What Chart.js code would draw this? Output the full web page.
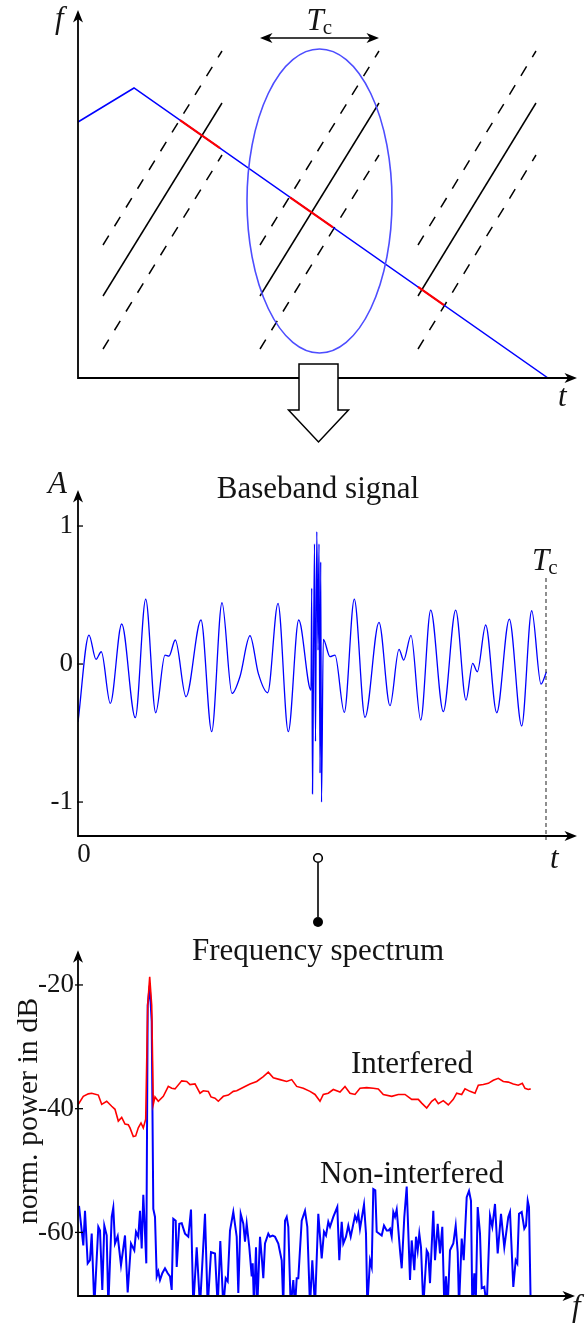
<!DOCTYPE html>
<html>
<head>
<meta charset="utf-8">
<script src="https://cdn.jsdelivr.net/npm/chart.js@4.4.1/dist/chart.umd.min.js"></script>
<style>
  body { margin: 0; background: #fff; }
  #wrap { position: relative; width: 585px; height: 1324px; }
  .box { position: absolute; left: 0; width: 585px; }
</style>
</head>
<body>
<div id="wrap">
  <div class="box" style="top:0;height:450px"><canvas id="sweep"></canvas></div>
  <div class="box" style="top:450px;height:480px"><canvas id="baseband"></canvas></div>
  <div class="box" style="top:930px;height:394px"><canvas id="spectrum"></canvas></div>
</div>
<script>
// ---- time/frequency sketch (arbitrary units) ----
const chirpT = [0, 56, 470];
const chirpF = [256, 290, 0];
const jamT0 = [25, 182, 340];
const jamT1 = [144, 301, 458];
const jamMidF = [82, 275];
const jamHighF = [133, 327];
const jamLowF = [29, 223];
const hitT0 = [102, 212, 340];
const hitF0 = [257.8, 180.7, 91.1];
const hitT1 = [142, 255, 366];
const hitF1 = [229.8, 150.6, 72.8];
const windowT = 241.5, windowF = 177, windowHalfT = 72.5, windowHalfF = 152;
const tcArrowF = 340;

// ---- baseband signal ----
const signalT = [0, 11, 18, 23.3, 32.3, 43.7, 57.3, 67.7, 77.7, 87, 91, 97.3, 108, 123, 133.7, 144, 154, 162, 172,
  180.3, 189.7, 200, 210.3, 220.7, 233, 233.7, 234.5, 235.3, 236.5, 237.5, 238.8, 240, 241, 242, 242.7, 243.5,
  245.3, 252, 257, 266.3, 276.3, 287, 301, 312, 321, 325.7, 333, 342.7, 352.7, 365.3, 377.7, 388, 394.7, 399.3,
  407.7, 418.7, 431.3, 443.7, 453.7, 463, 468.5];
const signalA = [-0.42, 0.21, 0.034, 0.089, -0.285, 0.29, -0.389, 0.471, -0.353, 0.065, 0.058, 0.174, -0.237, 0.319,
  -0.49, 0.444, -0.213, -0.09, 0.205, -0.068, -0.208, 0.44, -0.49, 0.319, -0.19, 0.55, -0.94, -0.24, 0.87, -0.56,
  0.96, 0.10, 0.87, -0.79, 0.74, -1.0, 0.179, 0.053, 0.065, -0.35, 0.471, -0.386, 0.302, -0.302, 0.106, 0.029,
  0.208, -0.406, 0.391, -0.345, 0.391, -0.261, 0.005, -0.056, 0.283, -0.353, 0.326, -0.449, 0.386, -0.145, -0.056];
const ampTicks = [-1, 0, 1];
const chirpEndT = 468;
const burstT = 240;

// ---- spectrum ----
const interfBin = [0.3, 5.3, 10.3, 13.7, 20.3, 23.7, 28.7, 33.7, 37, 40.3, 43.7, 47, 50.3, 52, 55.3, 57.7, 60.3, 63,
  65.3, 67.7, 69.7, 71.7, 73.7, 75.3, 77, 80.3, 85.3, 90.3, 93.7, 97, 103.7, 108.7, 112, 117, 122, 125.3, 130.3, 133,
  137, 140.3, 145.3, 150.3, 155.3, 158.7, 167, 172, 178.7, 185.3, 190.3, 195.3, 202, 208.7, 213.7, 218.7, 225.3, 232,
  237, 242, 245.3, 250.3, 255.3, 262, 267, 272, 277, 282, 288.7, 295.3, 300.3, 305.3, 313.7, 320.3, 327, 333.7,
  340.3, 343.7, 348.7, 353.7, 357, 360.3, 365.3, 370.3, 375.3, 378.7, 383.7, 387, 392, 397, 400.3, 405.3, 410.3,
  415.3, 420.3, 425.3, 430.3, 435.3, 440.3, 444.3, 447, 450.3, 452.7];
const interfDb = [-39.3, -38.0, -37.6, -37.5, -37.8, -39.3, -38.8, -39.6, -40.1, -42.0, -41.4, -42.5, -42.6, -43.1,
  -44.5, -44.4, -43.1, -42.3, -43.1, -41.7, -23.3, -18.7, -23.3, -39.3, -38.1, -38.8, -38.0, -36.4, -36.7, -36.8,
  -35.5, -35.6, -36.1, -36.0, -37.5, -37.1, -37.2, -38.1, -38.3, -38.8, -38.0, -37.8, -37.2, -37.1, -36.4, -36.0,
  -35.6, -34.8, -34.1, -35.0, -35.3, -35.6, -35.3, -36.4, -36.7, -37.2, -37.7, -38.8, -37.7, -37.5, -36.9, -37.3,
  -36.4, -37.5, -37.7, -36.7, -36.6, -36.7, -36.8, -37.7, -38.0, -37.7, -37.7, -38.5, -38.5, -39.1, -39.9, -38.8,
  -38.4, -39.2, -38.7, -39.4, -38.5, -37.5, -37.7, -36.8, -37.2, -37.5, -36.2, -36.1, -35.9, -35.4, -35.1, -35.6,
  -35.7, -36.0, -36.2, -35.9, -36.7, -36.9, -36.8];
const cleanBin = [1, 3.7, 5.3, 7, 9.7, 12, 13.7, 16.3, 20.3, 22, 24.3, 26.3, 28.7, 30.3, 33.7, 35.3, 37, 39.7, 43, 47,
  49.7, 53, 56.3, 58, 60.3, 62, 63.7, 65.3, 66.3, 68.3, 69.7, 71.7, 73.7, 75.3, 77, 78.7, 80.3, 82, 84.3, 87, 89.7,
  92, 93.7, 95.3, 97.7, 98.7, 101.3, 103.7, 107, 110.3, 113, 115.3, 118.7, 122, 127, 129.7, 133, 137, 139.7, 142.3,
  145.3, 147.7, 149.7, 152, 155.3, 158.7, 160.3, 162.7, 165.3, 167, 168.7, 171.3, 173.7, 174.7, 176, 178, 179.3,
  182, 183.7, 185.3, 187, 190.3, 192, 194.7, 197, 200.3, 203.7, 205.3, 207, 208.7, 210.3, 212.7, 215.3, 217, 218.7,
  220.3, 223.7, 227, 229.3, 232, 234.3, 237, 240.3, 243.7, 246, 248, 250.3, 252, 255.3, 259.3, 261.3, 263.7, 265.3,
  268, 270.3, 272.7, 277, 278.7, 280.3, 282, 286, 288, 289.3, 292, 293.7, 295.3, 297.3, 298.7, 303.7, 306, 308.7,
  310.3, 312, 313.7, 315.3, 317, 318.7, 322, 323.7, 326.3, 328.7, 332, 333.7, 336.3, 338, 339.7, 341.3, 343, 345.3,
  348.7, 350.3, 352, 355.3, 357, 359.7, 362, 364.3, 366.3, 368, 369.7, 372, 375.3, 377.7, 379.7, 381, 383.7, 385.7,
  388.7, 391, 393, 394.3, 396.3, 397.7, 399.7, 402, 403.7, 406.3, 408.7, 412, 414.3, 417, 419.7, 423, 426.3, 430.3,
  432, 435.3, 437.7, 439.3, 441, 443.7, 446.3, 448, 449.7, 451, 452.7];
const cleanDb = [-55.7, -59.7, -62.1, -56.5, -65.0, -64.5, -60.2, -72, -59.1, -59.7, -69.3, -58.9, -60.5, -72, -57.5,
  -56.0, -61.8, -60.6, -65.3, -60.5, -69.7, -61.8, -62.9, -59.9, -60.7, -56.5, -62.6, -53.9, -57.5, -65.0, -23.3,
  -20.1, -25.9, -56.2, -57.5, -67.1, -66.3, -67.7, -66.6, -65.8, -66.6, -67.1, -69.3, -57.8, -58.1, -65.6, -58.6,
  -58.5, -60.2, -60.7, -56.3, -72, -62.4, -72, -57.0, -72, -63.2, -63.4, -72, -61.4, -72, -67.4, -67.9, -59.7, -56.7,
  -60.7, -69.8, -57.0, -58.6, -61.5, -58.6, -62.4, -67.1, -65.0, -72, -62.4, -72, -60.7, -63.9, -67.4, -61.8, -60.2,
  -60.7, -60.5, -60.7, -61.8, -64.5, -72, -58.1, -57.5, -59.1, -72, -67.7, -72, -67.4, -67.4, -58.1, -56.5, -59.1,
  -72, -64.5, -72, -57.0, -64.2, -59.9, -60.5, -58.3, -59.1, -57.5, -55.9, -64.5, -58.3, -61.8, -60.7, -58.9, -60.7,
  -57.3, -58.1, -57.0, -59.4, -55.5, -60.2, -72, -64.5, -65.6, -53.0, -53.2, -59.9, -60.5, -58.9, -59.7, -59.7,
  -59.4, -60.7, -56.7, -57.5, -56.3, -62.9, -65.8, -57.5, -52.6, -67.7, -61.3, -66.1, -60.7, -62.9, -60.2, -62.4,
  -72, -62.9, -63.4, -68.2, -56.5, -64.5, -58.6, -63.4, -59.1, -72, -67.1, -72, -62.9, -61.8, -58.9, -63.2, -72,
  -61.0, -64.5, -54.3, -53.3, -54.9, -72, -66.6, -72, -55.9, -60.2, -69.0, -68.8, -72, -57.3, -59.1, -55.4, -63.4,
  -57.0, -62.4, -57.5, -56.7, -68.8, -64.5, -65.0, -57.0, -56.7, -59.4, -58.9, -54.9, -55.9, -72];
const dbTicks = [-60, -40, -20];

const SERIF = '"Liberation Serif", "DejaVu Serif", serif';
const INK = '#141414';

function pts(xs, ys) {
  return xs.map((x, i) => ({ x: x, y: ys[i] }));
}

function seg(xs, ys, color, w, dash) {
  return {
    data: pts(xs, ys),
    borderColor: color,
    borderWidth: w,
    borderDash: dash || [],
    pointRadius: 0,
    tension: 0,
    fill: false
  };
}

function head(ctx, x, y, ang) {
  ctx.save();
  ctx.translate(x, y);
  ctx.rotate(ang);
  ctx.beginPath();
  ctx.moveTo(0, 0);
  ctx.lineTo(-12.5, -5);
  ctx.lineTo(-9, 0);
  ctx.lineTo(-12.5, 5);
  ctx.closePath();
  ctx.fill();
  ctx.restore();
}

function frame(chart) {
  const ctx = chart.ctx, a = chart.chartArea;
  ctx.save();
  ctx.strokeStyle = '#000';
  ctx.fillStyle = '#000';
  ctx.lineWidth = 1.8;
  ctx.beginPath();
  ctx.moveTo(a.left, a.top + 9);
  ctx.lineTo(a.left, a.bottom);
  ctx.lineTo(a.right - 9, a.bottom);
  ctx.stroke();
  head(ctx, a.left, a.top, -Math.PI / 2);
  head(ctx, a.right, a.bottom, 0);
  ctx.restore();
}

function tickMarks(chart, from, to) {
  const ctx = chart.ctx, a = chart.chartArea, sy = chart.scales.y;
  ctx.save();
  ctx.strokeStyle = '#000';
  ctx.lineWidth = 1.3;
  sy.ticks.forEach(t => {
    const y = sy.getPixelForValue(t.value);
    ctx.beginPath();
    ctx.moveTo(a.left - from, y);
    ctx.lineTo(a.left + to, y);
    ctx.stroke();
  });
  ctx.restore();
}

function text(ctx, s, x, y, size, italic, align) {
  ctx.save();
  ctx.fillStyle = INK;
  ctx.font = (italic ? 'italic ' : '') + size + 'px ' + SERIF;
  ctx.textAlign = align || 'left';
  ctx.textBaseline = 'alphabetic';
  ctx.fillText(s, x, y);
  ctx.restore();
}

function tcLabel(ctx, x, y) {
  ctx.save();
  ctx.font = 'italic 31px ' + SERIF;
  const w = ctx.measureText('T').width;
  ctx.restore();
  text(ctx, 'T', x, y, 31, true);
  text(ctx, 'c', x + w - 1, y + 4, 21, false);
}

const common = {
  responsive: true,
  maintainAspectRatio: false,
  animation: false,
  devicePixelRatio: 1,
  plugins: { legend: { display: false }, tooltip: { enabled: false } }
};

// ---------- chart 1: sweep sketch ----------
const sweepSets = [];
hitT0.forEach((t, i) => sweepSets.push(seg([t, hitT1[i]], [hitF0[i], hitF1[i]], '#ff0000', 2.2)));
sweepSets.push(seg(chirpT, chirpF, '#0000ff', 1.5));
jamT0.forEach((t, i) => {
  const ts = [t, jamT1[i]];
  sweepSets.push(seg(ts, jamMidF, '#000', 1.5));
  sweepSets.push(seg(ts, jamHighF, '#000', 1.5, [11, 11]));
  sweepSets.push(seg(ts, jamLowF, '#000', 1.5, [11, 11]));
});

new Chart(document.getElementById('sweep'), {
  type: 'line',
  data: { datasets: sweepSets },
  options: Object.assign({}, common, {
    layout: { padding: { left: 78, right: 8, top: 10, bottom: 72 } },
    scales: {
      x: { type: 'linear', min: 0, max: 499, display: false },
      y: { type: 'linear', min: 0, max: 368, display: false }
    }
  }),
  plugins: [{
    id: 'sweepDecor',
    afterDraw(chart) {
      const ctx = chart.ctx, a = chart.chartArea, sx = chart.scales.x, sy = chart.scales.y;
      frame(chart);
      const cx = sx.getPixelForValue(windowT), cy = sy.getPixelForValue(windowF);
      const rx = sx.getPixelForValue(windowT + windowHalfT) - cx;
      const ry = cy - sy.getPixelForValue(windowF + windowHalfF);
      ctx.save();
      ctx.strokeStyle = '#4d4dff';
      ctx.lineWidth = 1.6;
      ctx.beginPath();
      ctx.ellipse(cx, cy, rx, ry, 0, 0, 2 * Math.PI);
      ctx.stroke();
      // Tc span arrow
      const ya = sy.getPixelForValue(tcArrowF);
      const x0 = sx.getPixelForValue(jamT0[1]), x1 = sx.getPixelForValue(jamT1[1]);
      ctx.strokeStyle = '#000';
      ctx.fillStyle = '#000';
      ctx.lineWidth = 1.5;
      ctx.beginPath();
      ctx.moveTo(x0 + 6, ya);
      ctx.lineTo(x1 - 6, ya);
      ctx.stroke();
      head(ctx, x0, ya, Math.PI);
      head(ctx, x1, ya, 0);
      // hollow arrow down to the baseband plot
      const mx = cx - 1, top = a.bottom - 14;
      ctx.fillStyle = '#fff';
      ctx.lineWidth = 1.5;
      ctx.lineJoin = 'miter';
      ctx.beginPath();
      ctx.moveTo(mx - 19.5, top);
      ctx.lineTo(mx + 19.5, top);
      ctx.lineTo(mx + 19.5, top + 46);
      ctx.lineTo(mx + 30, top + 46);
      ctx.lineTo(mx, top + 78);
      ctx.lineTo(mx - 30, top + 46);
      ctx.lineTo(mx - 19.5, top + 46);
      ctx.closePath();
      ctx.fill();
      ctx.stroke();
      ctx.restore();
      tcLabel(ctx, (x0 + x1) / 2 - 13, 29.5);
      text(ctx, 'f', 55, 28, 31, true);
      text(ctx, 't', 558, 406, 31, true);
    }
  }]
});

// ---------- chart 2: baseband signal ----------
new Chart(document.getElementById('baseband'), {
  type: 'line',
  data: {
    datasets: [{
      data: pts(signalT, signalA),
      borderColor: '#0000ff',
      borderWidth: 1.3,
      pointRadius: 0,
      cubicInterpolationMode: 'monotone',
      fill: false
    }]
  },
  options: Object.assign({}, common, {
    layout: { padding: { left: 0, right: 8, top: 40, bottom: 94 } },
    scales: {
      x: { type: 'linear', min: 0, max: 499, display: false },
      y: {
        type: 'linear', min: -1.246, max: 1.261,
        afterBuildTicks: s => { s.ticks = ampTicks.map(v => ({ value: v })); },
        afterFit: s => { s.width = 78; },
        grid: { display: false, drawTicks: false },
        border: { display: false },
        ticks: { padding: 5, color: INK, font: { family: SERIF, size: 27 }, callback: v => String(v) }
      }
    }
  }),
  plugins: [{
    id: 'baseDecor',
    afterDraw(chart) {
      const ctx = chart.ctx, a = chart.chartArea, sx = chart.scales.x;
      frame(chart);
      tickMarks(chart, 1, 5);
      const xe = sx.getPixelForValue(chirpEndT);
      ctx.save();
      ctx.strokeStyle = '#333';
      ctx.lineWidth = 1.1;
      ctx.setLineDash([4, 3]);
      ctx.beginPath();
      ctx.moveTo(xe, 128);
      ctx.lineTo(xe, a.bottom + 4);
      ctx.stroke();
      ctx.setLineDash([]);
      // link to spectrum
      const xb = sx.getPixelForValue(burstT);
      ctx.strokeStyle = '#000';
      ctx.lineWidth = 1.6;
      ctx.beginPath();
      ctx.moveTo(xb, 412.5);
      ctx.lineTo(xb, 467);
      ctx.stroke();
      ctx.fillStyle = '#fff';
      ctx.beginPath();
      ctx.arc(xb, 408, 4.3, 0, 2 * Math.PI);
      ctx.fill();
      ctx.stroke();
      ctx.fillStyle = '#000';
      ctx.beginPath();
      ctx.arc(xb, 472, 5, 0, 2 * Math.PI);
      ctx.fill();
      ctx.restore();
      tcLabel(ctx, xe - 14, 120);
      text(ctx, 'Baseband signal', 318, 48, 31, false, 'center');
      text(ctx, 'A', 48, 43, 31, true);
      text(ctx, '0', 84, 412, 27, false, 'center');
      text(ctx, 't', 550, 418, 31, true);
    }
  }]
});

// ---------- chart 3: frequency spectrum ----------
new Chart(document.getElementById('spectrum'), {
  type: 'line',
  data: {
    datasets: [
      { data: pts(interfBin, interfDb), borderColor: '#ff0000', borderWidth: 1.6, pointRadius: 0, tension: 0, fill: false },
      { data: pts(cleanBin, cleanDb), borderColor: '#0000ff', borderWidth: 2, pointRadius: 0, tension: 0, fill: false }
    ]
  },
  options: Object.assign({}, common, {
    layout: { padding: { left: 0, right: 10, top: 18, bottom: 28 } },
    scales: {
      x: { type: 'linear', min: 0, max: 497, display: false },
      y: {
        type: 'linear', min: -70.28, max: -14.38,
        afterBuildTicks: s => { s.ticks = dbTicks.map(v => ({ value: v })); },
        afterFit: s => { s.width = 78; },
        grid: { display: false, drawTicks: false },
        border: { display: false },
        ticks: { padding: 4, color: INK, font: { family: SERIF, size: 27 }, callback: v => String(v) }
      }
    }
  }),
  plugins: [{
    id: 'specDecor',
    afterDraw(chart) {
      const ctx = chart.ctx;
      frame(chart);
      tickMarks(chart, 3, 5);
      text(ctx, 'Frequency spectrum', 318, 30, 31, false, 'center');
      text(ctx, 'Interfered', 412, 143, 31, false, 'center');
      text(ctx, 'Non-interfered', 412, 253, 31, false, 'center');
      text(ctx, 'f', 572, 386, 31, true);
      ctx.save();
      ctx.translate(37, 181);
      ctx.rotate(-Math.PI / 2);
      text(ctx, 'norm. power in dB', 0, 0, 30, false, 'center');
      ctx.restore();
    }
  }]
});
</script>
</body>
</html>
